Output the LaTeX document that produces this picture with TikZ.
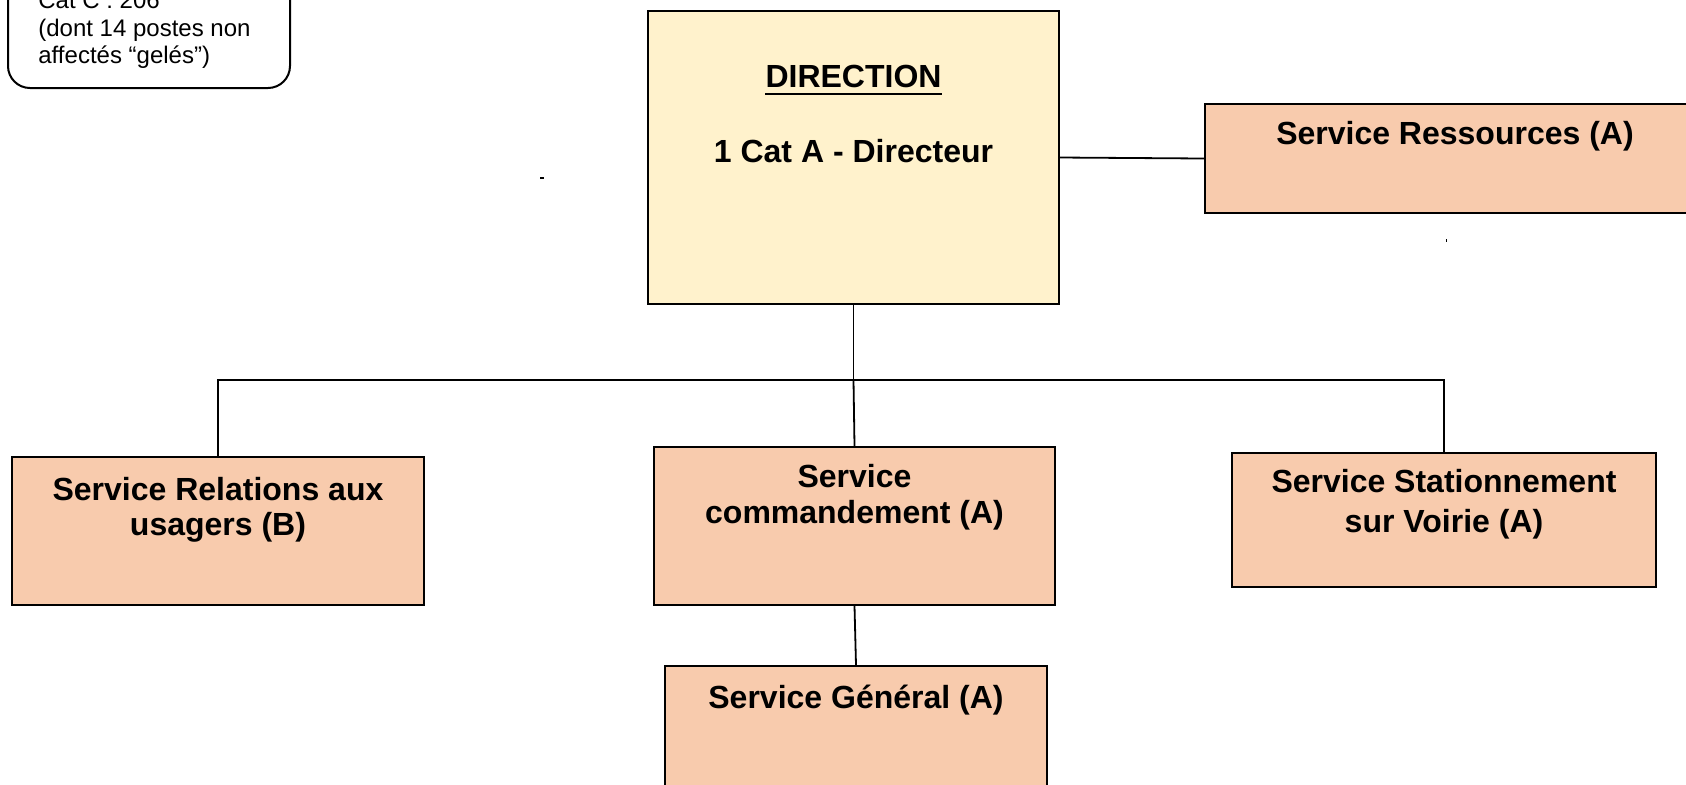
\documentclass[tikz,border=0pt]{standalone}
\usepackage{fontspec}
\setmainfont{Liberation Sans}
\usetikzlibrary{fit}
\definecolor{peach}{HTML}{F8CBAD}
\definecolor{cream}{HTML}{FFF2CC}
\begin{document}
\begin{tikzpicture}[x=0.5pt,y=-0.5pt,
  box/.style={draw=black, line width=1pt, fill=peach, inner sep=0pt},
  dirbox/.style={box, fill=cream},
  note/.style={draw=black, line width=1pt, rounded corners=11pt, inner sep=0pt},
  lbl/.style={anchor=base, inner sep=0pt, font=\bfseries\fontsize{16pt}{18.4pt}\selectfont},
  small/.style={anchor=base west, inner sep=0pt, font=\fontsize{12pt}{13.8pt}\selectfont},
  link/.style={draw=black, line width=0.9pt}]
\useasboundingbox (0,0) rectangle (1686,784);
\clip (0,0) rectangle (1686,784);

% staff count note (top left)
\node[note, fit={(8,-40) (290,88)}] (effectif) {};
\node[small] (eff1) at (38,8.5) {Cat C : 206};
\node[small] (eff2) at (38,36) {(dont 14 postes non};
\node[small] (eff3) at (38,63.5) {affectés “gelés”)};

% direction
\node[dirbox, fit={(648,11) (1059,304)}] (dir) {};
\node[lbl] (dirt) at (853.5,87) {DIRECTION};
\draw[line width=1.3pt] ([yshift=-3.5pt]dirt.base west) -- ([yshift=-3.5pt]dirt.base east);
\node[lbl] (dirc) at (853.5,162) {1 Cat A - Directeur};

% services
\node[box, fit={(1205,104) (1705,213)}] (res) {};
\node[lbl] (rest) at (1455,144) {Service Ressources (A)};

\node[box, fit={(12,457) (424,605)}] (rel) {};
\node[lbl] (rel1) at (218,500) {Service Relations aux};
\node[lbl] (rel2) at (218,535) {usagers (B)};

\node[box, fit={(654,447) (1055,605)}] (com) {};
\node[lbl] (com1) at (854.5,487) {Service};
\node[lbl] (com2) at (854.5,523) {commandement (A)};

\node[box, fit={(1232,453) (1656,587)}] (sta) {};
\node[lbl] (sta1) at (1444,492) {Service Stationnement};
\node[lbl] (sta2) at (1444,532) {sur Voirie (A)};

\node[box, fit={(665,666) (1047,820)}] (gen) {};
\node[lbl] (gen1) at (856,708) {Service Général (A)};

% connectors
\coordinate (hub) at (853.5,380);
\draw[link] (dir.south) -- (hub);
\draw[link] (rel.north) |- (hub) -| (sta.north);
\draw[link] (hub) -- (com.north);
\draw[link] (com.south) -- (gen.north);
\draw[link] (dir.east) -- (res.west);

% stray marks
\fill (540,177) rectangle (544,179);
\fill (1446,238.5) rectangle (1447,241.5);
\end{tikzpicture}
\end{document}
